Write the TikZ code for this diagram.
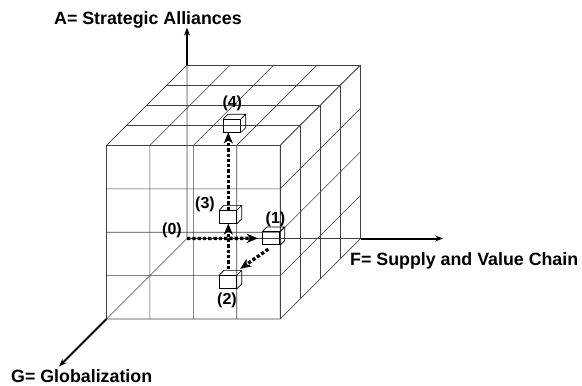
\documentclass[tikz,border=0pt]{standalone}
\usepackage{fontspec}
\setmainfont{Liberation Sans}
\usepackage{tikz}
\usetikzlibrary{arrows.meta,positioning}

\begin{document}
\begin{tikzpicture}[
    x=1pt, y=-1pt,
    grid/.style={line width=0.6pt, black!75},
    axis/.style={-{Stealth[length=8pt,width=6pt]}, line width=2pt},
    trail/.style={-{Stealth[length=11pt,width=9pt,inset=3pt]}, line width=3.3pt, dash pattern=on 3.3pt off 2pt},
    block/.style={draw, line width=0.7pt, minimum width=17pt, minimum height=13pt, inner sep=0pt},
    num/.style={font=\fontsize{16}{18}\selectfont\bfseries, inner sep=0pt},
    axlabel/.style={font=\fontsize{17.8}{20}\selectfont\bfseries, inner sep=0pt, anchor=base west}
]
\useasboundingbox (0,0) rectangle (582,386);

\begin{scope}[shift={(187pt,-238.5pt)}, x={(43.4pt,0pt)}, y={(0pt,43.4pt)}, z={(-20.125pt,-20.125pt)}, grid]
  \foreach \i in {0,...,4} {
    \draw (\i,0,4) -- (\i,4,4) -- (\i,4,0);
    \draw (0,\i,4) -- (4,\i,4) -- (4,\i,0);
    \draw (0,4,\i) -- (4,4,\i) -- (4,0,\i);
  }
  \coordinate (c0) at (0,0,0);
  \coordinate (topA) at (0,4,0);
  \coordinate (endA) at (0,4.86,0);
  \coordinate (baseF) at (4,0,0);
  \coordinate (endF) at (5.9,0,0);
  \coordinate (baseG) at (0,0,4);
  \coordinate (endG) at (0,0,6.36);
  \draw (topA) -- (c0) -- (baseF) (c0) -- (baseG);
\end{scope}

\draw[axis] (topA) -- (endA);
\draw[axis] (baseF) -- (endF);
\draw[axis] (baseG) -- (endG);

\node[axlabel] (labA) at (54,24) {A= Strategic Alliances};
\node[axlabel] (labF) at (350,265) {F= Supply and Value Chain};
\node[axlabel] (labG) at (11,382) {G= Globalization};

\node[block] (c1) at (271.3,238.3) {};
\node[block] (c2) at (228.3,281.7) {};
\node[block] (c3) at (228.3,216.7) {};
\node[block] (c4) at (232.3,125.5) {};
\foreach \c in {c1,c2,c3,c4}
  \draw[line width=0.7pt] (\c.north west) -- ++(4.5,-4.5) -- ([shift={(4.5,-4.5)}]\c.north east)
    -- ([shift={(4.5,-4.5)}]\c.south east) -- (\c.south east) (\c.north east) -- ++(4.5,-4.5);

\node[num] (n0) at (172,230.5) {(0)};
\node[num] (n1) at (275.5,219.7) {(1)};
\node[num] (n2) at (227,300.8) {(2)};
\node[num] (n3) at (205,204) {(3)};
\node[num] (n4) at (232.3,103) {(4)};

\draw[trail, shorten >=4.5pt] (c0) -- (c1.west);
\draw[trail] ([shift={(-3,4)}]c1.south) -- ([shift={(3,-6)}]c2.north east);
\draw[trail, shorten <=6pt] (c2.north) -- (c3.south);
\draw[trail] (c3.north) -- (c3.north |- c4.south);
\end{tikzpicture}
\end{document}
